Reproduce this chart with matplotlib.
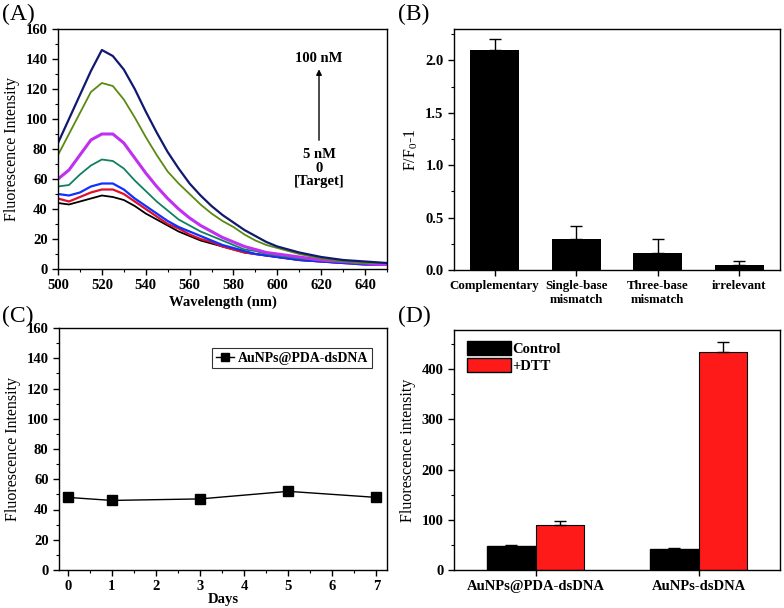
import numpy as np
from matplotlib import pyplot as plt
from matplotlib.patches import Patch
from matplotlib.ticker import MultipleLocator

plt.rcParams['font.family'] = ['Liberation Serif', 'DejaVu Serif']
plt.rcParams['font.size'] = 10.5
plt.rcParams['xtick.direction'] = 'out'
plt.rcParams['ytick.direction'] = 'out'

# (A) fluorescence spectra
wavelength = [500, 505, 510, 515, 520, 525, 530, 535, 540, 545, 550, 555, 560, 565, 570,
              575, 580, 585, 590, 595, 600, 610, 620, 630, 640, 650]
spec_black = [44, 43, 45, 47, 49, 48, 46, 42, 37, 33, 29, 25, 22, 19, 17, 15, 13, 11, 10, 9, 8, 6, 5, 4, 4, 4]
spec_red = [47, 45, 48, 51, 53, 53, 50, 45, 40, 35, 30, 27, 23, 20, 18, 15, 13, 11, 10, 9, 8, 6, 5, 4, 3, 3]
spec_blue = [50, 49, 51, 55, 57, 57, 53, 47, 42, 37, 32, 28, 25, 22, 19, 16, 14, 12, 10, 9, 8, 6, 5, 4, 3, 3]
spec_teal = [55, 56, 63, 69, 73, 72, 67, 59, 52, 45, 39, 33, 29, 25, 22, 19, 16, 13, 12, 10, 9, 7, 6, 5, 4, 3]
spec_magenta = [60, 66, 76, 86, 90, 90, 84, 74, 64, 55, 47, 40, 34, 29, 25, 21, 18, 15, 13, 11, 10, 8, 6, 5, 4, 3]
spec_olive = [76, 90, 104, 118, 124, 122, 113, 101, 88, 76, 65, 57, 50, 43, 37, 32, 28, 23, 19, 16, 14, 10, 7, 5, 4, 4]
spec_navy = [84, 100, 116, 132, 146, 142, 133, 120, 105, 91, 78, 67, 57, 49, 42, 36, 31, 26, 22, 18, 15, 11, 8, 6, 5, 4]
spectra = [spec_black, spec_red, spec_blue, spec_teal, spec_magenta, spec_olive, spec_navy]
spec_colors = ['black', '#e0102a', '#1030ff', '#108060', '#c030f0', '#5a8a10', '#101870']
spec_widths = [1.3, 1.6, 1.6, 1.3, 2.2, 1.3, 1.6]

# (B) selectivity
b_labels = ['Complementary', 'Single-base\nmismatch', 'Three-base\nmismatch', 'irrelevant']
b_values = [2.1, 0.3, 0.16, 0.05]
b_errors = [0.1, 0.12, 0.14, 0.04]

# (C) stability
days = [0, 1, 3, 5, 7]
stab = [48, 46, 47, 52, 48]

# (D) DTT test
d_groups = ['AuNPs@PDA-dsDNA', 'AuNPs-dsDNA']
d_control = [47, 42]
d_control_err = [2, 2]
d_dtt = [89, 435]
d_dtt_err = [8, 20]

fig = plt.figure(figsize=(7.84, 6.08), dpi=100)
W, H = 784, 608


def add_ax(x0, y0, x1, y1):
    return fig.add_axes([x0 / W, 1 - y1 / H, (x1 - x0) / W, (y1 - y0) / H])


def bold_ticks(ax):
    for lab in ax.get_xticklabels() + ax.get_yticklabels():
        lab.set_fontweight('bold')


axA = add_ax(58, 29, 387, 269)
for y, c, lw in zip(spectra, spec_colors, spec_widths):
    axA.plot(wavelength, y, color=c, lw=lw)
axA.set_xlim(500, 650)
axA.set_ylim(0, 160)
axA.xaxis.set_major_locator(MultipleLocator(20))
axA.xaxis.set_minor_locator(MultipleLocator(10))
axA.yaxis.set_major_locator(MultipleLocator(20))
axA.yaxis.set_minor_locator(MultipleLocator(10))
axA.set_xlabel('Wavelength (nm)', fontweight='bold', labelpad=2)
axA.set_ylabel('Fluorescence Intensity', fontsize=11.5)
axA.annotate('', xy=(619, 135), xytext=(619, 84),
             arrowprops=dict(arrowstyle='-|>', color='black', lw=1, mutation_scale=8))
axA.text(619, 140, '100 nM', ha='center', va='center', fontweight='bold')
axA.text(619, 76, '5 nM', ha='center', va='center', fontweight='bold')
axA.text(619, 67, '0', ha='center', va='center', fontweight='bold')
axA.text(619, 58, '[Target]', ha='center', va='center', fontweight='bold')

axB = add_ax(454, 29, 780, 270)
xb = np.arange(1, len(b_values) + 1)
axB.bar(xb, b_values, width=0.6, color='black')
axB.errorbar(xb, b_values, yerr=[np.zeros(len(b_errors)), b_errors], fmt='none',
             ecolor='black', capsize=4, elinewidth=1)
axB.set_xlim(0.5, 4.5)
axB.set_ylim(0, 2.3)
axB.set_xticks(xb)
axB.set_xticklabels(b_labels, fontsize=9.3)
axB.yaxis.set_major_locator(MultipleLocator(0.5))
axB.yaxis.set_minor_locator(MultipleLocator(0.25))
axB.set_ylabel('F/F$_\\mathregular{0}$-1', fontsize=11.5)

axC = add_ax(59, 328, 387, 570)
axC.plot(days, stab, color='black', marker='s', ms=6.5, lw=1, label='AuNPs@PDA-dsDNA')
axC.set_xlim(-0.2, 7.24)
axC.set_ylim(0, 160)
axC.xaxis.set_major_locator(MultipleLocator(1))
axC.xaxis.set_minor_locator(MultipleLocator(0.5))
axC.yaxis.set_major_locator(MultipleLocator(20))
axC.yaxis.set_minor_locator(MultipleLocator(10))
axC.set_xlabel('Days', fontweight='bold', labelpad=0)
axC.set_ylabel('Fluorescence Intensity', fontsize=11.5)
legC = axC.legend(loc='upper right', bbox_to_anchor=(0.975, 0.945), fancybox=False,
                  edgecolor='black', handlelength=1.3, handletextpad=0.3, borderpad=0.25,
                  markerscale=0.85, prop={'weight': 'bold', 'size': 10})
legC.get_frame().set_linewidth(0.8)

axD = add_ax(454, 330, 780, 570)
xd = np.arange(1, len(d_groups) + 1)
axD.bar(xd - 0.15, d_control, width=0.3, color='black', edgecolor='black')
axD.bar(xd + 0.15, d_dtt, width=0.3, color='#ff1a1a', edgecolor='black', lw=0.8)
axD.errorbar(xd - 0.15, d_control, yerr=[[0, 0], d_control_err], fmt='none',
             ecolor='black', capsize=4, elinewidth=1)
axD.errorbar(xd + 0.15, d_dtt, yerr=[[0, 0], d_dtt_err], fmt='none',
             ecolor='black', capsize=4, elinewidth=1)
axD.set_xlim(0.5, 2.5)
axD.set_ylim(0, 478)
axD.set_xticks(xd)
axD.set_xticklabels(d_groups)
axD.yaxis.set_major_locator(MultipleLocator(100))
axD.yaxis.set_minor_locator(MultipleLocator(50))
axD.set_ylabel('Fluorescence intensity', fontsize=11.5)
handles = [Patch(facecolor='black', edgecolor='black', label='Control'),
           Patch(facecolor='#ff1a1a', edgecolor='black', label='+DTT')]
axD.legend(handles=handles, loc='upper left', bbox_to_anchor=(0.01, 0.995), frameon=False,
           handlelength=3.0, handleheight=1.1, borderpad=0.2, labelspacing=0.1,
           handletextpad=0.1, prop={'weight': 'bold', 'size': 10.5})

for ax in (axA, axB, axC, axD):
    bold_ticks(ax)
    for s in ax.spines.values():
        s.set_linewidth(1.0)
    ax.tick_params(which='major', length=4, width=1)
    ax.tick_params(which='minor', length=2, width=0.8)
axB.tick_params(axis='x', which='minor', bottom=False)
axD.tick_params(axis='x', which='minor', bottom=False)

fig.text(2 / W, 1 - 14 / H, '(A)', fontsize=17, va='center')
fig.text(398 / W, 1 - 14 / H, '(B)', fontsize=17, va='center')
fig.text(2 / W, 1 - 316 / H, '(C)', fontsize=17, va='center')
fig.text(398 / W, 1 - 316 / H, '(D)', fontsize=17, va='center')

fig.savefig('out.png', dpi=100)
